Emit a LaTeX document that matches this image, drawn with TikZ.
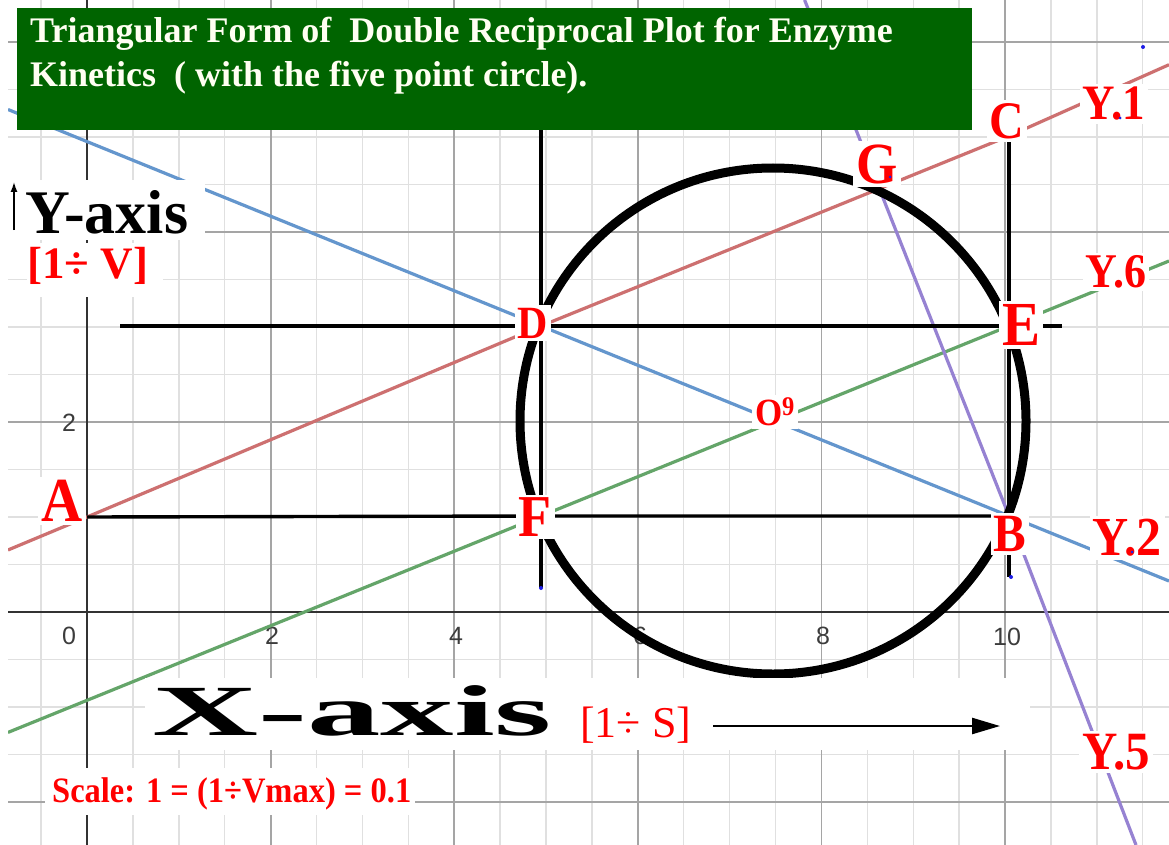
\documentclass[tikz,border=0pt]{standalone}
\usepackage{fontspec}
\setmainfont{Liberation Serif}
\setsansfont{Liberation Sans}
\usepackage{graphicx}
\usetikzlibrary{arrows.meta}
\definecolor{ggred}{RGB}{205,112,112}
\definecolor{ggblue}{RGB}{100,150,205}
\definecolor{gggreen}{RGB}{100,165,105}
\definecolor{ggpurple}{RGB}{150,130,210}
\definecolor{titlegreen}{RGB}{0,100,0}
\definecolor{titletext}{RGB}{255,255,242}
\definecolor{minorgrid}{RGB}{224,224,224}
\definecolor{majorgrid}{RGB}{165,165,165}
\definecolor{axisgray}{RGB}{50,50,50}
\definecolor{tickgray}{RGB}{60,60,60}
\definecolor{labelred}{RGB}{255,0,0}
\definecolor{ptblue}{RGB}{30,30,230}
\newcommand{\fs}[1]{\fontsize{#1}{#1}\selectfont}
\newcommand{\tall}[1]{\scalebox{1}[1.1]{#1}}
\begin{document}
\begin{tikzpicture}[x=1pt,y=-1pt,
  minorg/.style={draw=minorgrid, line width=1.4pt},
  majorg/.style={draw=majorgrid, line width=1.8pt},
  axisline/.style={draw=axisgray, line width=2.4pt},
  gline/.style={line width=3.2pt},
  blackline/.style={draw=black, line width=3.4pt},
  ptlabel/.style={fill=white, text=labelred, inner sep=3pt, font=\bfseries},
  tick/.style={text=tickgray, font=\sffamily\fs{25}, inner sep=0pt},
  ptdot/.style={circle, fill=ptblue, inner sep=0pt, minimum size=4pt},
  whitebox/.style={fill=white}
]
\useasboundingbox (0,0) rectangle (1169,845);
\fill[white] (0,0) rectangle (1169,845);

% grid
\begin{scope}
\clip (8,0) rectangle (1169,845);
\foreach \k in {-1,...,23} { \draw[minorg] ({87+45.9*\k},0) -- ({87+45.9*\k},845); }
\foreach \k in {-4,...,12} { \draw[minorg] (8,{612-47.5*\k}) -- (1169,{612-47.5*\k}); }
\foreach \m in {1,...,5} { \draw[majorg] ({87+183.6*\m},0) -- ({87+183.6*\m},845); }
\foreach \m in {-1,1,2,3} { \draw[majorg] (8,{612-190*\m}) -- (1169,{612-190*\m}); }
\draw[axisline] (8,612) -- (1169,612);
\draw[axisline] (87,0) -- (87,845);
\end{scope}

% tick labels
\node[tick] (t0) at (69,636) {0};
\node[tick] (t2) at (272,636) {2};
\node[tick] (t4) at (456,636) {4};
\node[tick] (t6) at (640,636) {6};
\node[tick] (t8) at (823,636) {8};
\node[tick] (t10) at (1007,637) {10};
\node[tick] (ty2) at (69,423) {2};

% key points
\coordinate (A) at (87,517);
\coordinate (D) at (541,326);
\coordinate (F) at (541,516);
\coordinate (E) at (1009,326);
\coordinate (B) at (1009,516);
\coordinate (C) at (1009,136);
\coordinate (O) at (775,421);
\coordinate (Y1s) at (8,550);
\coordinate (Y1e) at (1169,64.7);
\coordinate (Y2s) at (8,109.5);
\coordinate (Y2e) at (1169,581);
\coordinate (Y6s) at (8,732.4);
\coordinate (Y6e) at (1169,261);
\coordinate (Y5s) at (804.6,0);
\coordinate (Y5e) at (1136,845);

% coloured lines
\begin{scope}
\clip (8,0) rectangle (1169,845);
\draw[gline, ggred] (Y1s) -- (A) -- (D) -- (C) -- (Y1e);
\draw[gline, ggblue] (Y2s) -- (D) -- (O) -- (B) -- (Y2e);
\draw[gline, gggreen] (Y6s) -- (F) -- (O) -- (E) -- (Y6e);
\draw[gline, ggpurple] (Y5s) -- (B) -- (Y5e);
\end{scope}

% black construction lines
\coordinate (DEl) at (120,326);
\coordinate (DEr) at (1062,326);
\coordinate (DFt) at (541,130);
\coordinate (DFb) at (541,588);
\coordinate (CBb) at (1009,577);
\draw[blackline] (DEl) -- (D) -- (E) -- (DEr);
\draw[blackline] (A) -- (F) -- (B);
\draw[blackline] (DFt) -- (D) -- (F) -- (DFb);
\draw[blackline] (C) -- (E) -- (B) -- (CBb);

% circle
\draw[black, line width=9pt] (773,421) circle[radius=253];

% title
\node[fill=titlegreen, anchor=north west, minimum width=955pt, minimum height=122pt, inner sep=0pt] (title) at (17,8) {};
\node[anchor=base west, inner sep=0pt, text=titletext, font=\bfseries\fs{36}] (title1) at (30,43) {Triangular Form of\ \ Double Reciprocal Plot for Enzyme};
\node[anchor=base west, inner sep=0pt, text=titletext, font=\bfseries\fs{36}] (title2) at (30,87) {Kinetics\ \ ( with the five point circle).};

% axis captions
\fill[whitebox] (8,180) rectangle (205,240);
\node[anchor=base west, inner sep=0pt, font=\bfseries\fs{62}] (yaxis) at (25,233) {Y-axis};
\coordinate (yarrb) at (14,230);
\coordinate (yarrt) at (14,182);
\draw[-{Latex[length=10pt,width=7pt]}, line width=1.4pt] (yarrb) -- (yarrt);
\fill[whitebox] (27,243) rectangle (163,297);
\node[anchor=base west, inner sep=0pt, text=labelred, font=\bfseries\fs{45}] (ylab) at (27,278) {[1÷ V]};

\fill[whitebox] (145,678) rectangle (1030,750);
\node[anchor=base west, inner sep=0pt] (xaxis) at (152,735) {\scalebox{2.04}[1]{\fs{72}\bfseries X-axis}};
\node[anchor=base west, inner sep=0pt, text=labelred, font=\fs{44}] (xlab) at (580,737) {[1÷ S]};
\coordinate (xarrs) at (713,726);
\coordinate (xarre) at (1000,726);
\draw[-{Triangle[length=28pt,width=16pt]}, line width=2.5pt] (xarrs) -- (xarre);

\fill[whitebox] (45,768) rectangle (415,815);
\node[anchor=base west, inner sep=0pt, text=labelred, font=\bfseries] (scale) at (52,802) {\tall{\fs{32.5}Scale: 1 = (1÷Vmax) = 0.1}};

% point labels
\node[ptlabel] (lA) at (62,501) {\tall{\fs{57}A}};
\node[ptlabel] (lD) at (533,323) {\tall{\fs{42}D}};
\node[ptlabel] (lF) at (535,517) {\tall{\fs{54}F}};
\node[ptlabel] (lE) at (1021,325) {\tall{\fs{57}E}};
\node[ptlabel] (lC) at (1007,121) {\tall{\fs{48}C}};
\node[ptlabel] (lG) at (877,164) {\tall{\fs{53}G}};
\node[ptlabel] (lB) at (1010,534) {\tall{\fs{49}B}};
\node[ptlabel] (lY1) at (1114,104) {\tall{\fs{45}Y.1}};
\node[ptlabel] (lY6) at (1116,272) {\tall{\fs{44}Y.6}};
\node[ptlabel] (lY2) at (1127,538) {\tall{\fs{50}Y.2}};
\node[ptlabel] (lY5) at (1116,752) {\tall{\fs{49}Y.5}};
\node[ptlabel] (lO) at (775,412) {\tall{\fs{35}O\textsuperscript{9}}};

% small GeoGebra point markers
\node[ptdot] (p1) at (1143,47) {};
\node[ptdot] (p2) at (541,588) {};
\node[ptdot] (p3) at (1011,577) {};
\node[ptdot, minimum size=3pt] (p4) at (890,177) {};
\node[ptdot, minimum size=3pt] (p5) at (1120,118) {};
\node[ptdot, minimum size=3pt] (p6) at (1132,552) {};
\end{tikzpicture}
\end{document}
